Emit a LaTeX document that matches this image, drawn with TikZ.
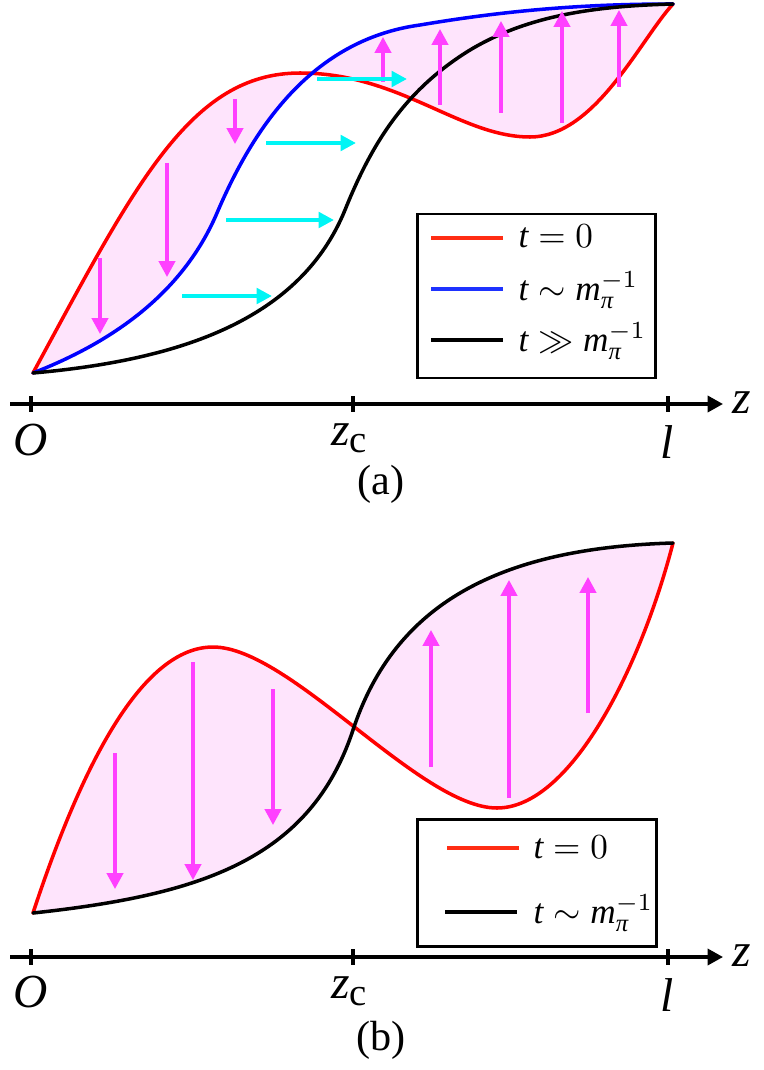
\documentclass[tikz,border=0pt]{standalone}
\usepackage{amsmath}
\usepackage{fontspec}
\setmainfont{Liberation Serif}
\usetikzlibrary{arrows.meta}
\definecolor{cRed}{RGB}{255,0,0}
\definecolor{cBlue}{RGB}{0,0,255}
\definecolor{legRed}{RGB}{255,45,20}
\definecolor{legBlue}{RGB}{30,50,255}
\definecolor{arrM}{RGB}{255,64,255}
\definecolor{arrC}{RGB}{0,245,245}
\definecolor{pinkfill}{RGB}{254,228,252}
\tikzset{
  curve/.style={line width=1pt, line join=round, line cap=round},
  marr/.style={draw=arrM, line width=0.95pt, -{Triangle[length=4.5pt,width=4.6pt]}},
  carr/.style={draw=arrC, line width=1.15pt, -{Triangle[length=4.4pt,width=4.4pt]}},
  axisline/.style={line width=0.95pt, -{Triangle[length=4.4pt,width=4.6pt]}},
  tick/.style={line width=0.9pt},
  axlabel/.style={font=\fontsize{13.5}{16}\selectfont, inner sep=0pt},
  caplabel/.style={font=\fontsize{12}{14}\selectfont, inner sep=0pt},
  legtext/.style={font=\fontsize{10}{12}\selectfont, anchor=base west, inner sep=0pt},
  legbox/.style={line width=0.85pt},
  legline/.style={line width=0.95pt},
}
\begin{document}
\begin{tikzpicture}[x=0.01cm,y=-0.01cm]
\useasboundingbox (0,0) rectangle (763,1070);

% ================= Panel (a) =================
\fill[pinkfill] (33,373) .. controls (135,185) and (190,73) .. (300,73)
  .. controls (400,73) and (460,137) .. (530,137)
  .. controls (595,137) and (640,40) .. (673,4)
  .. controls (600,4) and (520,8) .. (420,25)
  .. controls (310,40) and (252,131) .. (217,213)
  .. controls (182,295) and (110,343) .. (33,373) -- cycle;

\draw[curve, cRed] (33,373) .. controls (135,185) and (190,73) .. (300,73)
  .. controls (400,73) and (460,137) .. (530,137)
  .. controls (595,137) and (640,40) .. (673,4);
\draw[curve, cBlue] (33,373) .. controls (110,343) and (182,295) .. (217,213)
  .. controls (252,131) and (310,40) .. (420,25)
  .. controls (520,8) and (600,4) .. (673,4);
\draw[curve, black] (33,373) .. controls (180,360) and (300,320) .. (345,210)
  .. controls (372,143) and (405,90) .. (470,50)
  .. controls (530,14) and (600,6) .. (673,4);

% magenta arrows (a)
\draw[marr] (100,258) -- (100,334);
\draw[marr] (167,163) -- (167,277);
\draw[marr] (235,99) -- (235,144);
\draw[marr] (383,82) -- (383,37);
\draw[marr] (440,105) -- (440,29);
\draw[marr] (501,113) -- (501,21);
\draw[marr] (562,123) -- (562,11);
\draw[marr] (619,87) -- (619,10);

% cyan arrows (a)
\draw[carr] (182,296) -- (272,296);
\draw[carr] (226,220) -- (334,220);
\draw[carr] (266,143) -- (356,143);
\draw[carr] (317,79) -- (407,79);

% legend (a)
\draw[legbox] (417,214) rectangle (655,378);
\draw[legline, legRed] (431,238) -- (503,238);
\draw[legline, legBlue] (431,289) -- (503,289);
\draw[legline, black] (431,340) -- (503,340);
\node[legtext] (la1) at (518,248) {$\textit{t} = 0$};
\node[legtext] (la2) at (518,300) {$\textit{t} \sim \textit{m}_{\textit{π}}^{-1}$};
\node[legtext] (la3) at (518,351) {$\textit{t} \gg \textit{m}_{\textit{π}}^{-1}$};

% axis (a)
\coordinate (aL) at (10,404);
\coordinate (aR) at (723,404);
\draw[axisline] (aL) -- (aR);
\draw[tick] (31,396) -- (31,412);
\draw[tick] (353,396) -- (353,412);
\draw[tick] (668,396) -- (668,412);
\node[axlabel] (aO) at (31,440) {\textit{O}};
\node[axlabel, anchor=base] (aZc) at (350,445) {\textit{z}\textsubscript{\fontsize{11}{12}\selectfont c}};
\node[axlabel] (aLl) at (667,442) {\textit{l}};
\node[axlabel] (aZ) at (742,403) {\textit{z}};
\node[caplabel] (capA) at (381,484) {(a)};

% ================= Panel (b) =================
\fill[pinkfill] (33,913) .. controls (90,740) and (150,647) .. (213,647)
  .. controls (290,647) and (420,808) .. (497,808)
  .. controls (570,808) and (640,670) .. (673,543)
  .. controls (500,548) and (395,603) .. (353,730)
  .. controls (310,860) and (200,895) .. (33,913) -- cycle;

\draw[curve, cRed] (33,913) .. controls (90,740) and (150,647) .. (213,647)
  .. controls (290,647) and (420,808) .. (497,808)
  .. controls (570,808) and (640,670) .. (673,543);
\draw[curve, black] (33,913) .. controls (200,895) and (310,860) .. (353,730)
  .. controls (395,603) and (500,548) .. (673,543);

% magenta arrows (b)
\draw[marr] (115,753) -- (115,889);
\draw[marr] (193,662) -- (193,880);
\draw[marr] (273,689) -- (273,825);
\draw[marr] (431,767) -- (431,630);
\draw[marr] (509,798) -- (509,580);
\draw[marr] (588,713) -- (588,577);

% legend (b)
\draw[legbox] (417,819) rectangle (656,946);
\draw[legline, legRed] (447,848) -- (519,848);
\draw[legline, black] (445,912) -- (517,912);
\node[legtext] (lb1) at (533,858) {$\textit{t} = 0$};
\node[legtext] (lb2) at (533,923) {$\textit{t} \sim \textit{m}_{\textit{π}}^{-1}$};

% axis (b)
\coordinate (bL) at (10,957);
\coordinate (bR) at (723,957);
\draw[axisline] (bL) -- (bR);
\draw[tick] (31,949) -- (31,965);
\draw[tick] (353,949) -- (353,965);
\draw[tick] (668,949) -- (668,965);
\node[axlabel] (bO) at (31,992) {\textit{O}};
\node[axlabel, anchor=base] (bZc) at (350,998) {\textit{z}\textsubscript{\fontsize{11}{12}\selectfont c}};
\node[axlabel] (bLl) at (667,995) {\textit{l}};
\node[axlabel] (bZ) at (742,956) {\textit{z}};
\node[caplabel] (capB) at (381,1040) {(b)};
\end{tikzpicture}
\end{document}
